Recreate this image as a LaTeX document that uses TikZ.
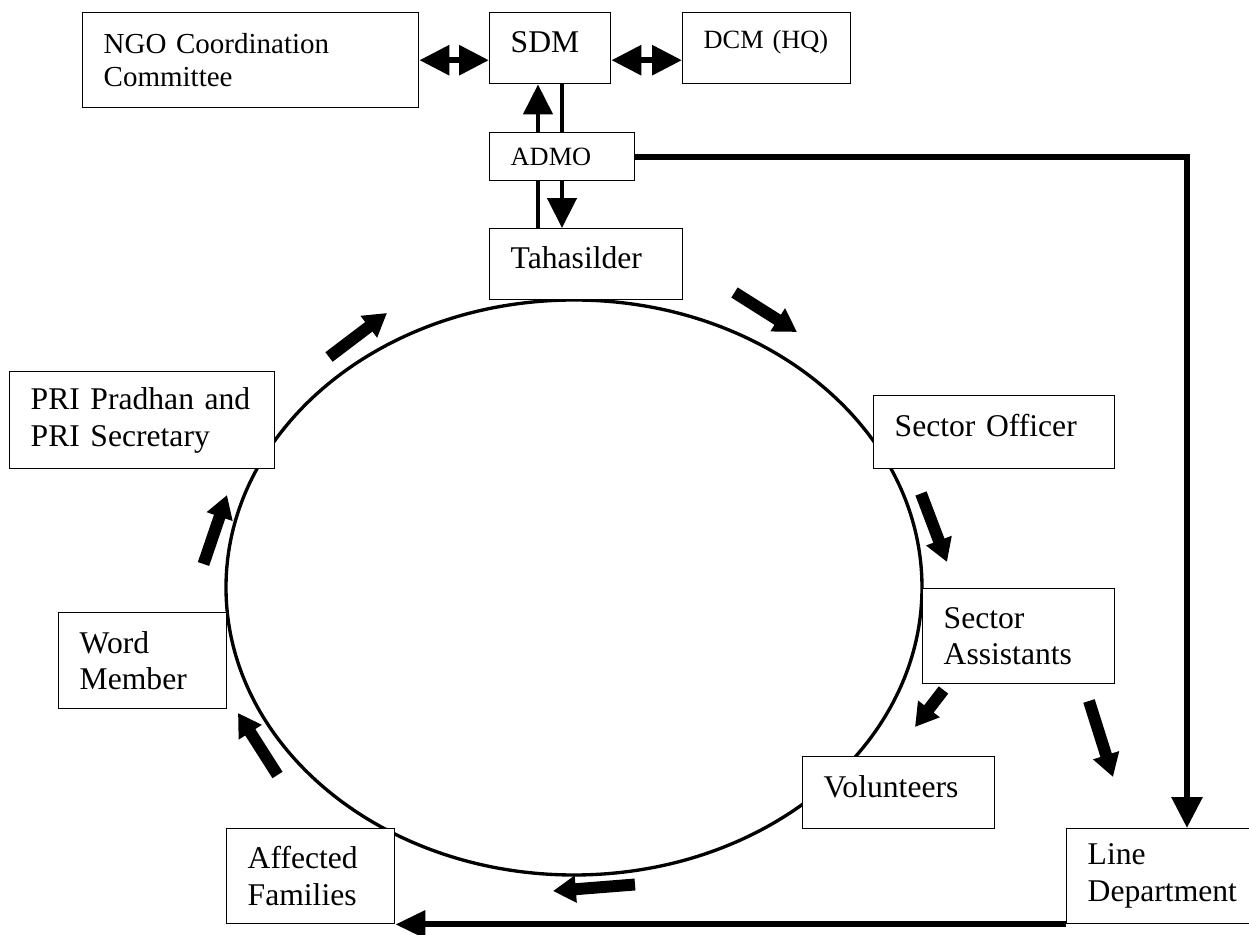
\documentclass[tikz,border=0pt]{standalone}
\usepackage{fontspec}
\setmainfont{Liberation Serif}
\usetikzlibrary{arrows.meta}
\newlength{\px}\setlength{\px}{0.02cm}

\begin{document}
\begin{tikzpicture}[x=0.02cm, y=-0.02cm,
    box/.style={draw, fill=white, line width=0.8pt, anchor=north west,
        inner xsep=21\px, inner ysep=0pt, align=left,
        font=\fontsize{18}{21}\selectfont},
    small/.style={font=\fontsize{15}{18}\selectfont},
    oneline/.style={text height=12pt, text depth=7pt},
    link/.style={line width=2.7pt},
    head/.style={-{Triangle[length=17pt,width=16.4pt]}},
    both/.style={line width=3.6pt, {Triangle[length=17pt,width=16.4pt]}-{Triangle[length=17pt,width=16.4pt]}},
    flow/.style={line width=6.8pt, -{Triangle[length=13pt,width=14.7pt]}}]
    \useasboundingbox (0,0) rectangle (1249,935);

    % Circle
    \draw[line width=1.9pt] (574,587.5) ellipse [x radius=348\px, y radius=287.5\px];

    % Nodes
    \node[box, text width=294\px, minimum height=95\px, font=\fontsize{16.5}{19}\selectfont] (ngo) at (82,12) {NGO Coordination\\Committee};
    \node[box, oneline, text width=79\px, minimum height=71\px] (sdm) at (489,12) {SDM};
    \node[box, small, text height=10pt, text depth=10pt, text width=126\px, minimum height=71\px] (dcm) at (682,12) {DCM (HQ)};
    \node[box, small, text width=103\px, minimum height=48\px] (admo) at (489,132) {ADMO};
    \node[box, oneline, text width=151\px, minimum height=71\px] (taha) at (489,228) {Tahasilder};
    \node[box, text width=223\px, minimum height=97\px] (pri) at (9,371) {PRI Pradhan and\\PRI Secretary};
    \node[box, oneline, text width=199\px, minimum height=73\px] (so) at (873,395) {Sector Officer};
    \node[box, text width=150\px, minimum height=95\px] (sa) at (922,588) {Sector\\Assistants};
    \node[box, text width=126\px, minimum height=96\px] (word) at (58,612) {Word\\Member};
    \node[box, oneline, text width=150\px, minimum height=72\px] (vol) at (802,756) {Volunteers};
    \node[box, text width=126\px, minimum height=95\px] (aff) at (226,828) {Affected\\Families};
    \node[box, text width=148\px, minimum height=95\px] (line) at (1066,828) {Line\\Department};

    % Edges
    \draw[both] (ngo.east) -- (ngo.east -| sdm.west);
    \draw[both] (ngo.east -| sdm.east) -- (ngo.east -| dcm.west);
    \draw[link, head] ([xshift=49\px]admo.north west) -- ([xshift=49\px]sdm.south west);
    \draw[link] ([xshift=73\px]sdm.south west) -- ([xshift=73\px]admo.north west);
    \draw[link] ([xshift=49\px]admo.south west) -- ([xshift=49\px]taha.north west);
    \draw[link, head] ([xshift=73\px]admo.south west) -- ([xshift=73\px]taha.north west);
    \draw[line width=3.6pt, -{Triangle[length=17.6pt,width=17pt]}] (admo.east) -| ([xshift=121\px]line.north west);
    \draw[line width=3.4pt, -{Triangle[length=17pt,width=15.3pt]}] (line.south west) -- (aff.south east);

    % Flow arrows round the circle
    \draw[flow] (734.5,292.5) -- (797,332);
    \draw[flow] (921,493.5) -- (947,562);
    \draw[flow] (943.5,690) -- (915,727);
    \draw[flow] (1089,701) -- (1113,777);
    \draw[flow] (635,884.5) -- (553,891);
    \draw[flow] (277.5,775) -- (238,713);
    \draw[flow] (203.5,564) -- (227,495);
    \draw[flow] (329,357) -- (387,313);
\end{tikzpicture}
\end{document}
